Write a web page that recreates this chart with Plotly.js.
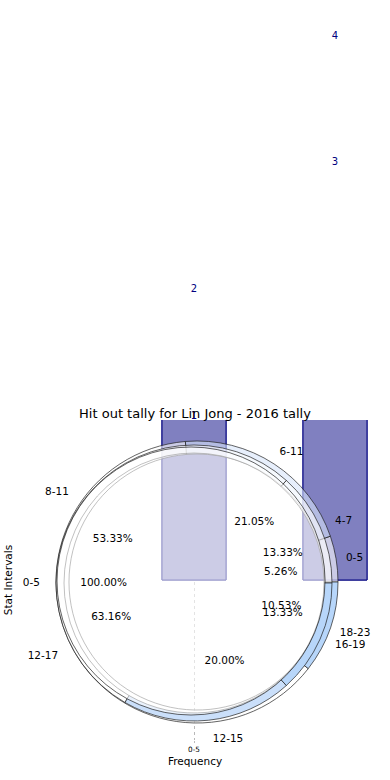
<!DOCTYPE html>
<html>
<head>
<meta charset="utf-8">
<script src="https://cdn.plot.ly/plotly-3.0.1.min.js"></script>
<style>html,body{margin:0;padding:0;background:#fff;}#chart{width:390px;height:780px;}</style>
</head>
<body>
<div id="chart"></div>
<script>
// ---- data ----
const barCategories = ["0-5", "6-11"];
const barSeriesA = [1, 3];
const barSeriesB = [2, 4];

const pieLabelsA = ["0-5"];
const pieValuesA = [1];
const pieLabelsB = ["4-7", "8-11", "12-15", "16-19"];
const pieValuesB = [2, 8, 3, 2];
const pieLabelsC = ["0-5", "6-11", "12-17", "18-23"];
const pieValuesC = [1, 4, 12, 2];

const chartTitle = "Hit out tally for Lin Jong - 2016 tally";
const xTitle = "Frequency";
const yTitle = "Stat Intervals";

// ---- layout helpers ----
const W = 390, H = 780;
const FONT = "DejaVu Sans";
function dom(cx, cy, r) {
  return { x: [(cx - r) / W, (cx + r) / W], y: [(H - cy - r) / H, (H - cy + r) / H] };
}
function rot(vals) { // matplotlib-style start at east, counter-clockwise
  const s = vals.reduce((a, b) => a + b, 0);
  return 90 - 360 * vals[0] / s;
}
const W6 = 'rgba(255,255,255,0.6)';
const lineC = { color: 'rgba(25,25,25,0.85)', width: 0.8 };
const clear = v => v.map(() => 'rgba(0,0,0,0)');
const txt = { family: FONT, size: 10.5, color: '#000' };

function fillPie(labels, values, colors, d, hole) {
  return { type: 'pie', labels, values, sort: false, direction: 'counterclockwise',
    rotation: rot(values), domain: d, hole: hole || 0, textinfo: 'none',
    marker: { colors, line: lineC }, hoverinfo: 'skip', showlegend: false };
}
function textPie(labels, values, d, mode) {
  const t = { type: 'pie', labels, values, sort: false, direction: 'counterclockwise',
    rotation: rot(values), domain: d, textposition: 'outside',
    marker: { colors: clear(values), line: { width: 0 } }, textfont: txt,
    hoverinfo: 'skip', showlegend: false };
  if (mode === 'label') t.textinfo = 'label';
  else { t.textinfo = 'percent'; t.texttemplate = '%{percent:.2%}'; }
  return t;
}

const data = [
  { type: 'bar', x: barCategories, y: barSeriesA, width: 0.454,
    marker: { color: 'rgb(128,128,192)', line: { color: '#000080', width: 1 } },
    hoverinfo: 'skip', showlegend: false },
  { type: 'bar', x: barCategories, y: barSeriesB, width: 0.454,
    marker: { color: 'rgb(128,128,192)', line: { color: '#000080', width: 1 } },
    hoverinfo: 'skip', showlegend: false },
  { type: 'scatter', mode: 'text', x: barCategories.concat(barCategories),
    y: barSeriesA.concat(barSeriesB),
    text: barSeriesA.concat(barSeriesB).map(String),
    xaxis: 'x2', yaxis: 'y2', cliponaxis: false,
    textfont: { family: FONT, size: 10, color: '#000080' }, hoverinfo: 'skip', showlegend: false },

  fillPie(pieLabelsC, pieValuesC, [W6, 'rgba(215,228,250,0.6)', W6, 'rgb(183,214,250)'], dom(197, 582, 141), 0.908),
  fillPie(pieLabelsB, pieValuesB, [W6, W6, 'rgba(196,220,250,0.9)', 'rgb(183,214,250)'], dom(194, 583, 138), 0.942),
  fillPie(pieLabelsA, pieValuesA, [W6], dom(191, 581, 134), 0),

  textPie(pieLabelsA, pieValuesA, dom(194, 582, 151), 'label'),
  textPie(pieLabelsB, pieValuesB, dom(194, 582, 151), 'label'),
  textPie(pieLabelsC, pieValuesC, dom(194, 582, 151), 'label'),
  textPie(pieLabelsA, pieValuesA, dom(194, 582, 64), 'pct'),
  textPie(pieLabelsB, pieValuesB, dom(194, 582, 72), 'pct'),
  textPie(pieLabelsC, pieValuesC, dom(194, 582, 68), 'pct')
];

const xDom = [22 / W, 368 / W];
const xRange = [-1.22, 1.234];
const layout = {
  width: W, height: H,
  margin: { l: 0, r: 0, t: 0, b: 0, autoexpand: false },
  paper_bgcolor: '#fff', plot_bgcolor: 'rgba(0,0,0,0)',
  font: { family: FONT, color: '#000' },
  showlegend: false,
  barmode: 'overlay',
  title: { text: chartTitle, font: { family: FONT, size: 13, color: '#000' },
    x: 0.5, xref: 'paper', xanchor: 'center', y: 1 - 413 / H, yref: 'container', yanchor: 'middle' },
  xaxis: { type: 'category', categoryorder: 'array', categoryarray: barCategories,
    domain: xDom, range: xRange, anchor: 'y',
    tickmode: 'array', tickvals: [barCategories[0]], ticktext: [barCategories[0]],
    tickfont: { family: FONT, size: 7.3, color: '#000' }, ticks: 'outside', ticklen: 2, tickcolor: '#bbb',
    showgrid: true, gridcolor: '#b8b8b8', griddash: 'dot', gridwidth: 1,
    showline: false, zeroline: false,
    title: { text: xTitle, font: { family: FONT, size: 10.5, color: '#000' }, standoff: 4 } },
  yaxis: { domain: [(H - 740) / H, (H - 420) / H], range: [-0.941, 0.941], anchor: 'x',
    showticklabels: false, ticks: '', showgrid: false, zeroline: false, showline: false,
    title: { text: yTitle, font: { family: FONT, size: 10.5, color: '#000' }, standoff: 6 } },
  xaxis2: { type: 'category', categoryorder: 'array', categoryarray: barCategories,
    domain: xDom, range: xRange, anchor: 'y2', visible: false, showgrid: false },
  yaxis2: { domain: [0, 1], range: [-1.8706, 4.2857], anchor: 'x2', visible: false, showgrid: false }
};

Plotly.newPlot('chart', data, layout, { displayModeBar: false, staticPlot: true });
</script>
</body>
</html>
